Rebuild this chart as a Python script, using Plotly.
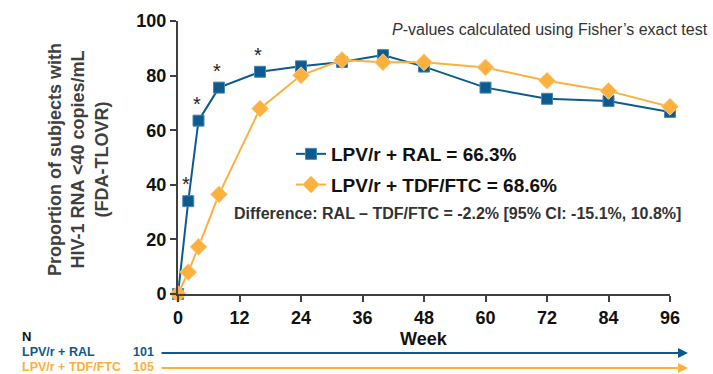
import plotly.graph_objects as go

weeks = [0, 2, 4, 8, 16, 24, 32, 40, 48, 60, 72, 84, 96]
ral = [0, 34, 63.5, 75.6, 81.4, 83.4, 85.0, 87.5, 83.3, 75.6, 71.5, 70.7, 66.7]
tdf = [0, 8.0, 17.3, 36.5, 67.9, 80.1, 85.7, 84.9, 84.9, 83.0, 78.1, 74.4, 68.6]
sig_weeks = [2, 4, 8, 16]
x_ticks = [0, 12, 24, 36, 48, 60, 72, 84, 96]
y_ticks = [0, 20, 40, 60, 80, 100]

names = ["LPV/r + RAL = 66.3%", "LPV/r + TDF/FTC = 68.6%"]
arms = ["LPV/r + RAL", "LPV/r + TDF/FTC"]
n_values = ["101", "105"]

BLUE = "#0d5a8e"
ORANGE = "#fbb040"
DARK = "#333333"
FONT = "Liberation Sans, Arial, sans-serif"

# pixel layout of the plot area
PX0, PX1, PY0, PY1 = 178, 670, 294, 21
W, H = 713, 374


def px(x):
    return (x - PX0) / (PX1 - PX0)


def py(y):
    return (PY0 - y) / (PY0 - PY1)


fig = go.Figure()
fig.add_trace(go.Scatter(
    x=weeks, y=ral, mode="lines+markers", name=names[0], legendgroup="a",
    line=dict(color=BLUE, width=2),
    marker=dict(symbol="square", size=11, color=BLUE, line=dict(color="#4a86b5", width=1)),
    cliponaxis=False))
fig.add_trace(go.Scatter(
    x=weeks, y=tdf, mode="lines+markers", name=names[1], legendgroup="b",
    line=dict(color=ORANGE, width=2),
    marker=dict(symbol="diamond", size=13, color=ORANGE, line=dict(color="#fdd08a", width=1)),
    cliponaxis=False))

annotations = []
for w in sig_weeks:
    annotations.append(dict(x=w, y=ral[weeks.index(w)], xref="x", yref="y", text="*",
                            showarrow=False, yshift=17, xshift=-2,
                            font=dict(family=FONT, size=20, color="#222222")))

annotations.append(dict(x=px(78), y=py(160), xref="paper", yref="paper",
                        xanchor="center", yanchor="middle",
                        text="Proportion of subjects with<br>HIV-1 RNA <40 copies/mL<br>(FDA-TLOVR)",
                        textangle=-90, showarrow=False,
                        font=dict(family=FONT, size=18, color="#404040", weight="bold")))
annotations.append(dict(x=px(710), y=py(29), xref="paper", yref="paper", xanchor="right", yanchor="middle",
                        text="<i>P</i>-values calculated using Fisher’s exact test", showarrow=False,
                        font=dict(family=FONT, size=16, color=DARK)))
annotations.append(dict(x=px(232), y=py(214), xref="paper", yref="paper",
                        xanchor="left", yanchor="middle",
                        text="Difference: RAL – TDF/FTC = -2.2% [95% CI: -15.1%, 10.8%]",
                        showarrow=False, font=dict(family=FONT, size=16, color=DARK, weight="bold")))
annotations.append(dict(x=px(424), y=py(339), xref="paper", yref="paper",
                        xanchor="center", yanchor="middle",
                        text="Week", showarrow=False,
                        font=dict(family=FONT, size=18, color="#111111", weight="bold")))
annotations.append(dict(x=px(20), y=py(337), xref="paper", yref="paper",
                        xanchor="left", yanchor="middle", text="N", showarrow=False,
                        font=dict(family=FONT, size=13, color="#111111", weight="bold")))
colors = [BLUE, ORANGE]
rows_y = [351.5, 366.5]
for arm, n, c, yy in zip(arms, n_values, colors, rows_y):
    annotations.append(dict(x=px(20), y=py(yy), xref="paper", yref="paper",
                            xanchor="left", yanchor="middle", text=arm, showarrow=False,
                            font=dict(family=FONT, size=12.5, color=c, weight="bold")))
    annotations.append(dict(x=px(156), y=py(yy), xref="paper", yref="paper",
                            xanchor="right", yanchor="middle", text=n, showarrow=False,
                            font=dict(family=FONT, size=12.5, color=c, weight="bold")))
    annotations.append(dict(x=px(688), y=py(yy + 1.5), xref="paper", yref="paper",
                            ax=-528, ay=0, text="", showarrow=True, arrowhead=2,
                            arrowsize=1, arrowwidth=2, arrowcolor=c))

fig.update_layout(
    width=W, height=H,
    margin=dict(l=PX0, r=W - PX1, t=PY1, b=H - PY0),
    paper_bgcolor="white", plot_bgcolor="white",
    font=dict(family=FONT, color="#111111"),
    showlegend=True,
    legend=dict(x=px(291), y=py(135), xanchor="left", yanchor="top",
                traceorder="grouped", tracegroupgap=3,
                font=dict(family=FONT, size=19, color="#111111", weight="bold"),
                bgcolor="rgba(0,0,0,0)", itemwidth=30),
    annotations=annotations,
)
axis_style = dict(showgrid=False, zeroline=False, showline=True, linecolor="#404040", linewidth=2,
                  ticks="outside", ticklen=6, tickwidth=2, tickcolor="#404040", automargin=False,
                  tickfont=dict(family=FONT, size=18, color="#111111", weight="bold"))
fig.update_xaxes(range=[0, 96], tickvals=x_ticks, **axis_style)
fig.update_yaxes(range=[0, 100], tickvals=y_ticks, **axis_style)

fig.write_html("out.html", config={"displayModeBar": False},
               post_script="document.body.style.margin='0';document.body.style.overflow='hidden';")
